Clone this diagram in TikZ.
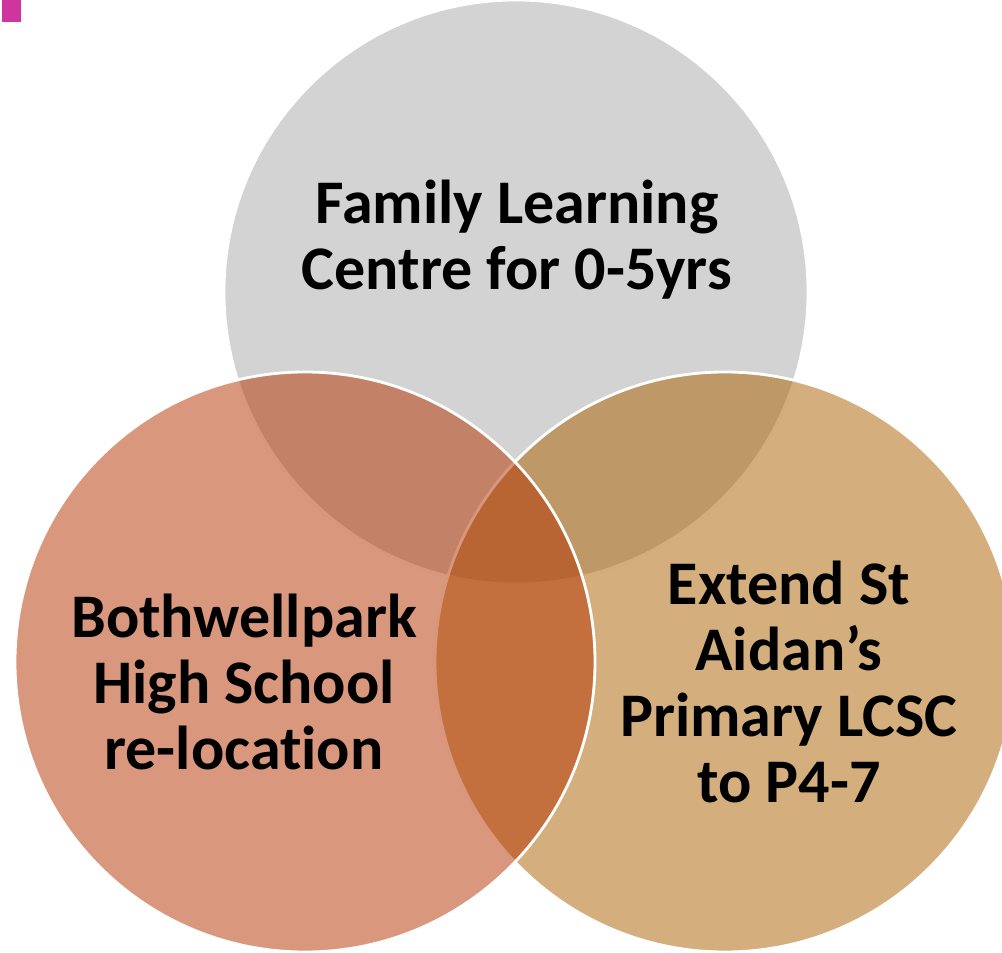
\documentclass[tikz,border=0pt]{standalone}
\usepackage{fontspec}
\setmainfont{Carlito}[Ligatures=NoCommon]
\usepackage{xcolor}
\usepackage{tikz}

\definecolor{venngray}{RGB}{211,211,211}
\definecolor{vennleft}{RGB}{182,55,5}
\definecolor{vennright}{RGB}{172,101,5}
\definecolor{markpink}{RGB}{207,53,159}

\tikzset{
  venn/.style={draw=white, line width=1.6pt},
  venntext/.style={align=center, text=black, font=\bfseries\fontsize{35.3}{37.5}\selectfont}
}

\begin{document}
\begin{tikzpicture}[x=0.02cm, y=-0.02cm]
                \useasboundingbox (0,0) rectangle (1002,953);
                \fill[markpink] (2,0) rectangle (21,22);
                \draw[venn, fill=venngray] (516,292) circle (292);
                \draw[venn, fill=vennright, fill opacity=0.52] (725,662) circle (290);
                \draw[venn, fill=vennleft, fill opacity=0.52] (305,662) circle (290);
                \node[venntext] (family) at (517,240) {Family Learning\\Centre for 0-5yrs};
                \node[venntext] (bothwell) at (244,682) {Bothwellpark\\High School\\re-location};
                \node[venntext] (aidans) at (789,682) {Extend St\\Aidan’s\\Primary LCSC\\to P4-7};
            \end{tikzpicture}
\end{document}
